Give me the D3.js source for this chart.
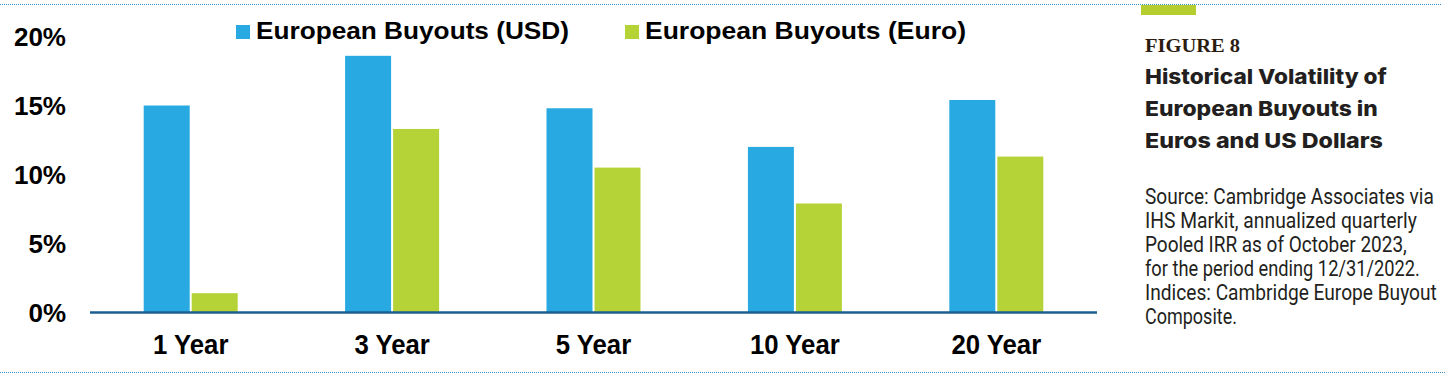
<!DOCTYPE html>
<html>
<head>
<meta charset="utf-8">
<script src="https://cdn.jsdelivr.net/npm/d3@7"></script>
<style>
  html, body { margin: 0; padding: 0; background: #ffffff; }
  svg { display: block; }
</style>
</head>
<body>
<svg id="chart" width="1450" height="376"></svg>
<script>
// ---- Data ----
const categories = ["1 Year", "3 Year", "5 Year", "10 Year", "20 Year"];
const seriesNames = ["European Buyouts (USD)", "European Buyouts (Euro)"];
const usdValues = [15.0, 18.6, 14.8, 12.0, 15.4];
const euroValues = [1.4, 13.3, 10.5, 7.9, 11.3];
const yTicks = [0, 5, 10, 15, 20];
const figureLabel = "FIGURE 8";
const titleLines = ["Historical Volatility of", "European Buyouts in", "Euros and US Dollars"];
const sourceLines = [
  "Source: Cambridge Associates via",
  "IHS Markit, annualized quarterly",
  "Pooled IRR as of October 2023,",
  "for the period ending 12/31/2022.",
  "Indices: Cambridge Europe Buyout",
  "Composite."
];

const colors = ["#29a9e1", "#b5d336"];
const svg = d3.select("#chart");

// fit a text element horizontally to a target width by scaling around its x origin
function fitWidth(sel, x, yPos, widthFn) {
  sel.each(function(d, i) {
    const t = d3.select(this);
    t.attr("x", 0).attr("y", 0);
    const w = this.getComputedTextLength();
    const sx = widthFn(d, i) / w;
    t.attr("transform", `translate(${x},${yPos(d, i)}) scale(${sx},1)`);
  });
}

// ---- Scales ----
const x0 = d3.scaleBand().domain(categories).range([90, 1097]).paddingInner(0.5333).paddingOuter(0.26665);
const x1 = d3.scaleBand().domain(seriesNames).range([0, x0.bandwidth()]).paddingInner(0.0417);
const y = d3.scaleLinear().domain([0, 20]).range([312.5, 36.5]);

const rows = categories.map((c, i) => ({ cat: c, vals: [usdValues[i], euroValues[i]] }));

// ---- Dotted frame lines ----
svg.append("line").attr("x1", 0).attr("x2", 1441).attr("y1", 4.5).attr("y2", 4.5)
  .attr("stroke", "#3d8fc6").attr("stroke-width", 1).attr("stroke-dasharray", "1,1");
svg.append("line").attr("x1", 0).attr("x2", 1446).attr("y1", 372.5).attr("y2", 372.5)
  .attr("stroke", "#3d8fc6").attr("stroke-width", 1).attr("stroke-dasharray", "1,1");

// ---- Bars ----
const groups = svg.append("g").selectAll("g").data(rows).join("g")
  .attr("transform", d => `translate(${x0(d.cat)},0)`);
groups.selectAll("rect").data(d => d.vals.map((v, j) => ({ name: seriesNames[j], v, j })))
  .join("rect")
  .attr("x", d => x1(d.name))
  .attr("width", x1.bandwidth())
  .attr("y", d => y(d.v))
  .attr("height", d => y(0) - y(d.v))
  .attr("fill", d => colors[d.j]);

// ---- Baseline axis ----
svg.append("line").attr("x1", 90).attr("x2", 1097).attr("y1", y(0)).attr("y2", y(0))
  .attr("stroke", "#1b5f8f").attr("stroke-width", 2.5);

// ---- Y tick labels ----
svg.append("g").selectAll("text").data(yTicks).join("text")
  .attr("x", 66).attr("y", d => y(d)).attr("dy", "0.36em")
  .attr("text-anchor", "end")
  .attr("font-family", "Liberation Sans, Arial, sans-serif")
  .attr("font-weight", "bold").attr("font-size", 26).attr("fill", "#000")
  .text(d => d + "%");

// ---- Category labels ----
svg.append("g").selectAll("text").data(categories).join("text")
  .attr("transform", d => `translate(${x0(d) + x0.bandwidth() / 2},353.5) scale(0.92,1)`)
  .attr("text-anchor", "middle")
  .attr("font-family", "Liberation Sans, Arial, sans-serif")
  .attr("font-weight", "bold").attr("font-size", 28).attr("fill", "#000")
  .text(d => d);

// ---- Legend ----
const legendPos = [{ sx: 236, tx: 256, w: 313 }, { sx: 625, tx: 645, w: 321 }];
const leg = svg.append("g").selectAll("g").data(seriesNames).join("g");
leg.append("rect").attr("x", (d, i) => legendPos[i].sx).attr("y", 25)
  .attr("width", 14).attr("height", 14).attr("fill", (d, i) => colors[i]);
leg.append("text").attr("x", (d, i) => legendPos[i].tx).attr("y", 38.5)
  .attr("font-family", "Liberation Sans, Arial, sans-serif")
  .attr("font-weight", "bold").attr("font-size", 24).attr("fill", "#000")
  .attr("textLength", (d, i) => legendPos[i].w).attr("lengthAdjust", "spacingAndGlyphs")
  .text(d => d);

// ---- Right panel ----
svg.append("rect").attr("x", 1141).attr("y", 5).attr("width", 55).attr("height", 10).attr("fill", "#b5cd2f");

svg.append("text").attr("x", 1145).attr("y", 52.3)
  .attr("font-family", "Liberation Serif, Times New Roman, serif")
  .attr("font-weight", "bold").attr("font-size", 18.5).attr("fill", "#2b1b10")
  .attr("textLength", 95).attr("lengthAdjust", "spacingAndGlyphs")
  .text(figureLabel);

const titleW = [242, 233, 238];
svg.append("g").selectAll("text").data(titleLines).join("text")
  .attr("font-family", "Inter, Lato, sans-serif")
  .attr("font-weight", 800).attr("font-size", 20.5).attr("fill", "#231f20")
  .text(d => d)
  .call(fitWidth, 1145, (d, i) => 83.5 + i * 32.2, (d, i) => titleW[i]);

const srcW = [289, 272, 262, 275, 292, 92];
svg.append("g").selectAll("text").data(sourceLines).join("text")
  .attr("font-family", "Liberation Sans Narrow, Roboto, sans-serif")
  .attr("font-weight", "normal").attr("font-size", 21.5).attr("fill", "#231f20")
  .text(d => d)
  .call(fitWidth, 1145, (d, i) => 204 + i * 23.9, (d, i) => srcW[i]);
</script>
</body>
</html>
